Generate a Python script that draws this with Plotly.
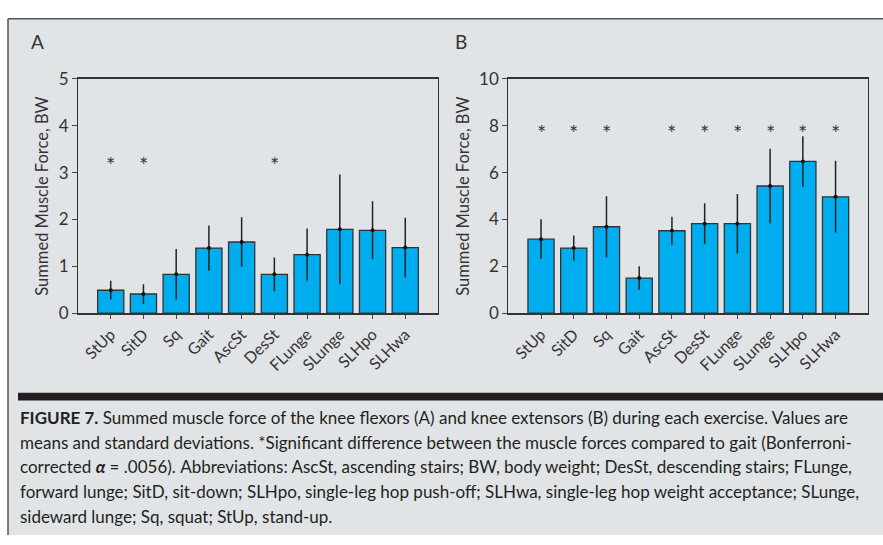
import plotly.graph_objects as go

W, H = 883, 545

categories = ["StUp", "SitD", "Sq", "Gait", "AscSt", "DesSt", "FLunge", "SLunge", "SLHpo", "SLHwa"]

flexor_mean = [0.49, 0.41, 0.83, 1.39, 1.52, 0.83, 1.25, 1.79, 1.77, 1.40]
flexor_sd = [0.20, 0.21, 0.54, 0.48, 0.53, 0.36, 0.56, 1.17, 0.62, 0.64]
flexor_sig = [1, 1, 0, 0, 0, 1, 0, 0, 0, 0]

extensor_mean = [3.16, 2.78, 3.69, 1.50, 3.52, 3.82, 3.82, 5.43, 6.48, 4.97]
extensor_sd = [0.85, 0.54, 1.30, 0.50, 0.60, 0.87, 1.27, 1.59, 1.08, 1.54]
extensor_sig = [1, 1, 1, 0, 1, 1, 1, 1, 1, 1]

star_y_A = 3.29
star_y_B = 7.91

yticks_A = [0, 1, 2, 3, 4, 5]
yticks_B = [0, 2, 4, 6, 8, 10]

caption_lines = [
    "<b>FIGURE 7.</b> Summed muscle force of the knee flexors (A) and knee extensors (B) during each exercise. Values are",
    "means and standard deviations. *Significant difference between the muscle forces compared to gait (Bonferroni-",
    "corrected <b><i>α</i></b> = .0056). Abbreviations: AscSt, ascending stairs; BW, body weight; DesSt, descending stairs; FLunge,",
    "forward lunge; SitD, sit-down; SLHpo, single-leg hop push-off; SLHwa, single-leg hop weight acceptance; SLunge,",
    "sideward lunge; Sq, squat; StUp, stand-up.",
]

FONT = "Lato, Roboto, Liberation Sans, sans-serif"
TXT = "#333333"
BAR = "#00AEEF"
BG = "#e1e4e7"

def px(x):
    return x / W

def py(y):
    return 1 - y / H

fig = go.Figure()

xs = list(range(len(categories)))
annotations = []

for (means, sds, sig, stary, xa, ya) in [
    (flexor_mean, flexor_sd, flexor_sig, star_y_A, "x", "y"),
    (extensor_mean, extensor_sd, extensor_sig, star_y_B, "x2", "y2"),
]:
    fig.add_trace(go.Bar(
        x=xs, y=means, width=0.8,
        marker=dict(color=BAR, line=dict(color="#333333", width=1.3)),
        error_y=dict(type="data", array=sds, visible=True, color="#222222", thickness=1.5, width=0),
        xaxis=xa, yaxis=ya, showlegend=False,
    ))
    fig.add_trace(go.Scatter(
        x=xs, y=means, mode="markers",
        marker=dict(color="#111111", size=4),
        xaxis=xa, yaxis=ya, showlegend=False,
    ))
    for x, s in zip(xs, sig):
        if s:
            annotations.append(dict(
                text="*", x=x, y=stary, xref=xa, yref=ya, showarrow=False,
                xanchor="center", yanchor="middle", yshift=-5,
                font=dict(family=FONT, size=22, color="#3a3a3a"),
            ))

xdomA = [px(78), px(438)]
xdomB = [px(508.3), px(868.3)]
ydom = [py(314.3), py(70.7)]

common_x = dict(
    range=[-1, 10], tickmode="array", tickvals=xs, ticktext=categories,
    tickangle=-45, ticks="outside", ticklen=4, tickcolor="#444444",
    showline=True, linecolor="#333333", linewidth=1.5, mirror=True,
    showgrid=False, zeroline=False,
    tickfont=dict(family=FONT, size=16, color=TXT),
)
common_y = dict(
    ticks="outside", ticklen=5, tickcolor="#444444",
    showline=True, linecolor="#333333", linewidth=1.2, mirror=True,
    showgrid=False, zeroline=False,
    tickfont=dict(family=FONT, size=17, color=TXT),
    title=dict(text="Summed Muscle Force, BW", font=dict(family=FONT, size=16.5, color=TXT), standoff=5),
)

fig.update_layout(
    width=W, height=H,
    margin=dict(l=0, r=0, t=0, b=0),
    paper_bgcolor="white", plot_bgcolor="white",
    xaxis=dict(domain=xdomA, anchor="y", **common_x),
    yaxis=dict(domain=ydom, anchor="x", range=[0, 5], tickvals=yticks_A, **common_y),
    xaxis2=dict(domain=xdomB, anchor="y2", **common_x),
    yaxis2=dict(domain=ydom, anchor="x2", range=[0, 10], tickvals=yticks_B, **common_y),
    bargap=0.2,
)

shapes = [
    dict(type="rect", xref="paper", yref="paper", x0=px(8), x1=1.0, y0=0, y1=py(8),
         fillcolor=BG, line=dict(width=0), layer="below"),
    dict(type="line", xref="paper", yref="paper", x0=px(8), x1=1.0, y0=py(8), y1=py(8),
         line=dict(color="#555555", width=1.5)),
    dict(type="line", xref="paper", yref="paper", x0=px(8), x1=px(8), y0=0, y1=py(8),
         line=dict(color="#555555", width=1.5)),
    dict(type="rect", xref="paper", yref="paper", x0=px(18), x1=1.0, y0=py(405), y1=py(397),
         fillcolor="#231f20", line=dict(width=0)),
]
fig.update_layout(shapes=shapes)

annotations += [
    dict(text="A", x=px(37.5), y=py(32), xref="paper", yref="paper", showarrow=False,
         xanchor="center", yanchor="middle", font=dict(family=FONT, size=19, color=TXT)),
    dict(text="B", x=px(461.5), y=py(32), xref="paper", yref="paper", showarrow=False,
         xanchor="center", yanchor="middle", font=dict(family=FONT, size=19, color=TXT)),
]
for i, line in enumerate(caption_lines):
    annotations.append(dict(
        text=line, x=px(18), y=py(423 + 25.6 * i), xref="paper", yref="paper",
        xanchor="left", yanchor="middle", showarrow=False, align="left",
        font=dict(family=FONT, size=17, color="#231f20"),
    ))
fig.update_layout(annotations=annotations)

fig.write_html("out.html", post_script="document.body.style.margin='0';",
               config={"displayModeBar": False})
